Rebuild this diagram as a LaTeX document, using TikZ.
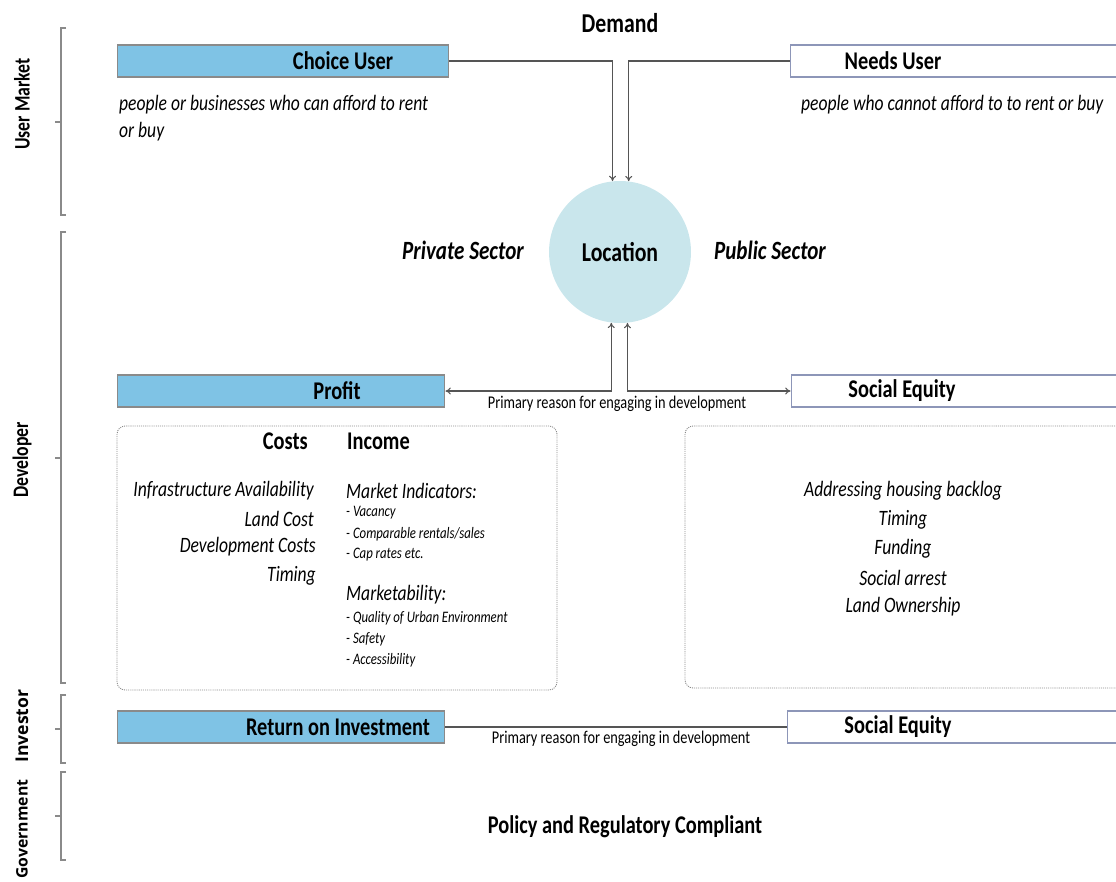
\documentclass[tikz,border=0pt]{standalone}
\usepackage{fontspec}
\setmainfont{Carlito}[FakeStretch=0.8]
\newfontfamily\widefont{Open Sans}
\usetikzlibrary{arrows.meta}

\definecolor{boxblue}{HTML}{7FC3E5}
\definecolor{circblue}{HTML}{C9E6EC}
\definecolor{boxline}{HTML}{8A8A8A}
\definecolor{rimblue}{HTML}{8D96B8}
\definecolor{linegray}{HTML}{555555}

\tikzset{
  bluebox/.style={draw=boxline, fill=boxblue, line width=0.6pt, minimum height=0.64cm, inner sep=0pt},
  whitebox/.style={draw=rimblue, fill=white, line width=0.6pt, minimum height=0.64cm, inner sep=0pt},
  dotbox/.style={draw=boxline, line width=0.5pt, dash pattern=on 0.6pt off 0.6pt, rounded corners=0.16cm, inner sep=0pt},
  conn/.style={draw=linegray, line width=0.6pt},
  brk/.style={draw=boxline, line width=0.6pt},
  head/.style={font=\fontsize{14.5}{16}\selectfont\bfseries},
  bighead/.style={font=\fontsize{15.5}{17}\selectfont\bfseries},
  sector/.style={font=\fontsize{15}{17}\selectfont\bfseries\itshape},
  desc/.style={font=\fontsize{12.5}{15.5}\selectfont\itshape},
  item/.style={font=\fontsize{12.5}{15}\selectfont\itshape},
  subitem/.style={font=\fontsize{9.1}{11}\selectfont\itshape},
  note/.style={font=\fontsize{10.2}{12}\selectfont},
  role/.style={rotate=90, font=\fontsize{12.6}{14}\selectfont\bfseries},
  widerole/.style={rotate=90, font=\widefont\fontsize{10}{12}\selectfont\bfseries},
}

\begin{document}
\begin{tikzpicture}[x=0.02cm, y=-0.02cm]
\useasboundingbox (0,0) rectangle (1116,882);

% side brackets
\draw[brk] (66,28) -- (61,28) -- (61,215) -- (66,215);
\draw[brk] (61,122) -- (55,122);
\draw[brk] (66,232) -- (61,232) -- (61,683) -- (66,683);
\draw[brk] (61,458) -- (55,458);
\draw[brk] (66,695) -- (61,695) -- (61,763) -- (66,763);
\draw[brk] (61,729) -- (55,729);
\draw[brk] (66,772) -- (61,772) -- (61,860) -- (66,860);
\draw[brk] (61,816) -- (55,816);
\node[role] (usermarket) at (22,104) {User Market};
\node[role] (developer) at (22,460) {Developer};
\node[widerole] (investor) at (22,726) {Investor};
\node[widerole, font=\widefont\fontsize{9}{11}\selectfont\bfseries] (government) at (22,829) {Government};

% demand
\node[bighead] (demand) at (620,23) {Demand};
\node[bluebox, minimum width=6.64cm] (choice) at (283,61) {};
\node[head] at (343,61) {Choice User};
\node[whitebox, minimum width=6.8cm] (needs) at (960,61) {};
\node[head] at (893,61) {Needs User};
\node[desc, anchor=north west, align=left] (choicetxt) at (113,89)
  {people or businesses who can afford to rent\\or buy};
\node[desc, anchor=north west] (needstxt) at (795,89) {people who cannot afford to to rent or buy};

% location
\node[circle, fill=circblue, minimum size=2.84cm, inner sep=0pt, bighead] (loc) at (620,252) {Location};
\node[sector] (private) at (463,250) {Private Sector};
\node[sector] (public) at (770,250) {Public Sector};

\draw[conn, -{To[length=3pt,width=4pt]}] (choice.east) -| (loc.96.5);
\draw[conn, -{To[length=3pt,width=4pt]}] (needs.west) -| (loc.83.5);

% developer
\node[bluebox, minimum width=6.56cm] (profit) at (281,391) {};
\node[head] at (337,391) {Profit};
\node[whitebox, minimum width=6.8cm] (equity) at (961,391) {};
\node[head] at (902,391) {Social Equity};
\draw[conn, {To[length=3pt,width=4pt]}-{To[length=3pt,width=4pt]}] (profit.east) -| (loc.263.5);
\draw[conn, {To[length=3pt,width=4pt]}-{To[length=3pt,width=4pt]}] (equity.west) -| (loc.276.5);
\node[note] (reason) at (617,404) {Primary reason for engaging in development};

\node[dotbox, minimum width=8.8cm, minimum height=5.28cm] (costbox) at (337,558) {};
\node[dotbox, minimum width=8.8cm, minimum height=5.24cm] (equitybox) at (905,557) {};

\node[head, anchor=east] (costs) at (314,441) {Costs};
\node[head, anchor=west] (income) at (341,441) {Income};
\node[item, anchor=east] at (320,491) {Infrastructure Availability};
\node[item, anchor=east] at (320,519) {Land Cost};
\node[item, anchor=east] at (322,547) {Development Costs};
\node[item, anchor=east] at (322,576) {Timing};
\node[item, anchor=west] at (340,491) {Market Indicators:};
\node[subitem, anchor=west] at (340,513) {- Vacancy};
\node[subitem, anchor=west] at (340,534) {- Comparable rentals/sales};
\node[subitem, anchor=west] at (340,555) {- Cap rates etc.};
\node[item, anchor=west] at (340,595) {Marketability:};
\node[subitem, anchor=west] at (340,618) {- Quality of Urban Environment};
\node[subitem, anchor=west] at (340,639) {- Safety};
\node[subitem, anchor=west] at (340,660) {- Accessibility};

\node[item] at (903,491) {Addressing housing backlog};
\node[item] at (903,520) {Timing};
\node[item] at (903,549) {Funding};
\node[item] at (903,578) {Social arrest};
\node[item] at (903,607) {Land Ownership};

% investor
\node[bluebox, minimum width=6.56cm] (roi) at (281,727) {};
\node[head] at (338,727) {Return on Investment};
\node[whitebox, minimum width=6.8cm] (equity2) at (957,727) {};
\node[head] at (898,727) {Social Equity};
\draw[conn] (roi.east) -- (equity2.west);
\node[note] (reason2) at (621,739) {Primary reason for engaging in development};

% government
\node[head] (policy) at (625,827) {Policy and Regulatory Compliant};
\end{tikzpicture}
\end{document}
